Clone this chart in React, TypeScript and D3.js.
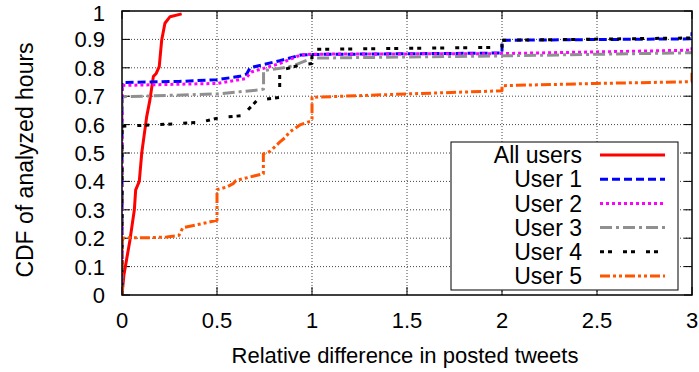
import * as d3 from "d3";

// tick values
const xTicks = [0, 0.5, 1, 1.5, 2, 2.5, 3];
const yTicks = [0, 0.1, 0.2, 0.3, 0.4, 0.5, 0.6, 0.7, 0.8, 0.9, 1];

const seriesNames = ["All users", "User 1", "User 2", "User 3", "User 4", "User 5"];

// CDF points
const allUsersX = [0, 0.01, 0.042, 0.065, 0.072, 0.091, 0.104, 0.112, 0.13, 0.147, 0.165, 0.18, 0.196, 0.209, 0.226, 0.253, 0.314];
const allUsersY = [0, 0.07, 0.194, 0.3, 0.37, 0.4, 0.5, 0.54, 0.628, 0.687, 0.769, 0.78, 0.804, 0.898, 0.957, 0.98, 0.99];

const user1X = [0, 0, 0.3, 0.5, 0.62, 0.656, 0.674, 0.83, 0.94, 1, 2, 2, 3, 3];
const user1Y = [0, 0.748, 0.752, 0.758, 0.77, 0.778, 0.8, 0.825, 0.845, 0.847, 0.852, 0.897, 0.902, 0.925];

const user2X = [0, 0, 0.5, 0.65, 0.68, 0.83, 0.94, 1, 2, 3, 3];
const user2Y = [0, 0.738, 0.745, 0.762, 0.785, 0.815, 0.845, 0.848, 0.85, 0.862, 0.88];

const user3X = [0, 0, 0.5, 0.72, 0.745, 0.745, 0.85, 0.9, 1, 2, 3, 3];
const user3Y = [0, 0.698, 0.708, 0.722, 0.725, 0.79, 0.8, 0.807, 0.834, 0.842, 0.853, 0.86];

const user4X = [0, 0, 0.2, 0.41, 0.525, 0.647, 0.66, 0.709, 0.761, 0.83, 0.83, 0.937, 1, 1, 2, 2, 3, 3];
const user4Y = [0, 0.594, 0.6, 0.608, 0.626, 0.632, 0.65, 0.684, 0.69, 0.696, 0.79, 0.81, 0.815, 0.865, 0.872, 0.897, 0.905, 0.93];

const user5X = [0, 0, 0.15, 0.235, 0.3, 0.32, 0.4, 0.5, 0.5, 0.55, 0.585, 0.6, 0.7, 0.744, 0.744, 0.755, 0.78, 0.83, 0.86, 0.88, 0.94, 0.99, 1, 1, 1.5, 2, 2, 2.5, 3, 3];
const user5Y = [0, 0.201, 0.202, 0.204, 0.21, 0.237, 0.248, 0.263, 0.371, 0.38, 0.392, 0.403, 0.42, 0.427, 0.497, 0.5, 0.506, 0.538, 0.555, 0.573, 0.6, 0.611, 0.62, 0.696, 0.708, 0.719, 0.737, 0.745, 0.751, 0.79];

const seriesX = [allUsersX, user1X, user2X, user3X, user4X, user5X];
const seriesY = [allUsersY, user1Y, user2Y, user3Y, user4Y, user5Y];

// line styles (gnuplot-ish)
const lineStyles = [
  { color: "#ff0000", dash: "none" },
  { color: "#0000ff", dash: "8,4" },
  { color: "#ff00ff", dash: "3,3" },
  { color: "#909090", dash: "12,4,3,4" },
  { color: "#000000", dash: "4,4,4,11" },
  { color: "#ff5500", dash: "10,3,3,3,3,3" },
];

const font = "'Liberation Sans', Arial, sans-serif";

export default function App() {
  const width = 699;
  const height = 372;
  const margin = { top: 11, right: 7, bottom: 77, left: 122 };

  const x = d3.scaleLinear().domain([0, 3]).range([margin.left, width - margin.right]);
  const y = d3.scaleLinear().domain([0, 1]).range([height - margin.bottom, margin.top]);

  const line = d3
    .line<[number, number]>()
    .x((d) => x(d[0]))
    .y((d) => y(d[1]));

  const [x0, x1] = x.range();
  const [y0, y1] = y.range();

  // legend layout
  const legend = { left: 451, top: 142, right: 678, bottom: 290 };
  const rowY = (i: number) => 155 + i * 24.2;

  return (
    <div style={{ position: "absolute", left: 0, top: 0 }}>
      <svg width={width} height={height} fontFamily={font}>
        <rect width={width} height={height} fill="white" />
        <defs>
          <clipPath id="plot">
            <rect x={x0} y={y1} width={x1 - x0} height={y0 - y1} />
          </clipPath>
        </defs>

        {/* grid */}
        {xTicks.slice(1, -1).map((t) => (
          <line key={"gx" + t} x1={x(t)} x2={x(t)} y1={y0} y2={y1} stroke="#444" strokeWidth={1} strokeDasharray="1,2" />
        ))}
        {yTicks.slice(1, -1).map((t) => (
          <line key={"gy" + t} x1={x0} x2={x1} y1={y(t)} y2={y(t)} stroke="#444" strokeWidth={1} strokeDasharray="1,2" />
        ))}

        {/* tick marks, inward on all sides */}
        {xTicks.map((t) => (
          <g key={"tx" + t} stroke="black" strokeWidth={1}>
            <line x1={x(t)} x2={x(t)} y1={y0} y2={y0 - 8} />
            <line x1={x(t)} x2={x(t)} y1={y1} y2={y1 + 8} />
          </g>
        ))}
        {yTicks.map((t) => (
          <g key={"ty" + t} stroke="black" strokeWidth={1}>
            <line x1={x0} x2={x0 + 8} y1={y(t)} y2={y(t)} />
            <line x1={x1} x2={x1 - 8} y1={y(t)} y2={y(t)} />
          </g>
        ))}

        {/* tick labels */}
        {xTicks.map((t) => (
          <text key={"lx" + t} x={x(t)} y={y0 + 33} textAnchor="middle" fontSize={22}>
            {String(t)}
          </text>
        ))}
        {yTicks.map((t) => (
          <text key={"ly" + t} x={x0 - 17} y={Math.max(y(t) + 8, 20.5)} textAnchor="end" fontSize={22}>
            {String(t)}
          </text>
        ))}

        {/* axis titles */}
        <text x={(x0 + x1) / 2 - 2} y={363} textAnchor="middle" fontSize={22}>
          Relative difference in posted tweets
        </text>
        <text
          transform={`translate(33, ${(y0 + y1) / 2 + 7}) rotate(-90)`}
          textAnchor="middle"
          fontSize={23}
        >
          CDF of analyzed hours
        </text>

        {/* series */}
        <g clipPath="url(#plot)">
          {seriesX.map((xs, i) => (
            <path
              key={"s" + i}
              d={line(xs.map((v, j) => [v, seriesY[i][j]] as [number, number])) ?? ""}
              fill="none"
              stroke={lineStyles[i].color}
              strokeWidth={3}
              strokeDasharray={lineStyles[i].dash}
              strokeLinejoin="round"
            />
          ))}
        </g>

        {/* frame */}
        <rect x={x0} y={y1} width={x1 - x0} height={y0 - y1} fill="none" stroke="black" strokeWidth={1.5} />

        {/* legend */}
        <rect
          x={legend.left}
          y={legend.top}
          width={legend.right - legend.left}
          height={legend.bottom - legend.top}
          fill="white"
          stroke="black"
          strokeWidth={1}
        />
        {seriesNames.map((name, i) => (
          <g key={"lg" + i}>
            <text x={582} y={rowY(i)} dy="0.36em" textAnchor="end" fontSize={23}>
              {name}
            </text>
            <line
              x1={600}
              x2={665}
              y1={rowY(i)}
              y2={rowY(i)}
              stroke={lineStyles[i].color}
              strokeWidth={3}
              strokeDasharray={lineStyles[i].dash}
            />
          </g>
        ))}
      </svg>
    </div>
  );
}
